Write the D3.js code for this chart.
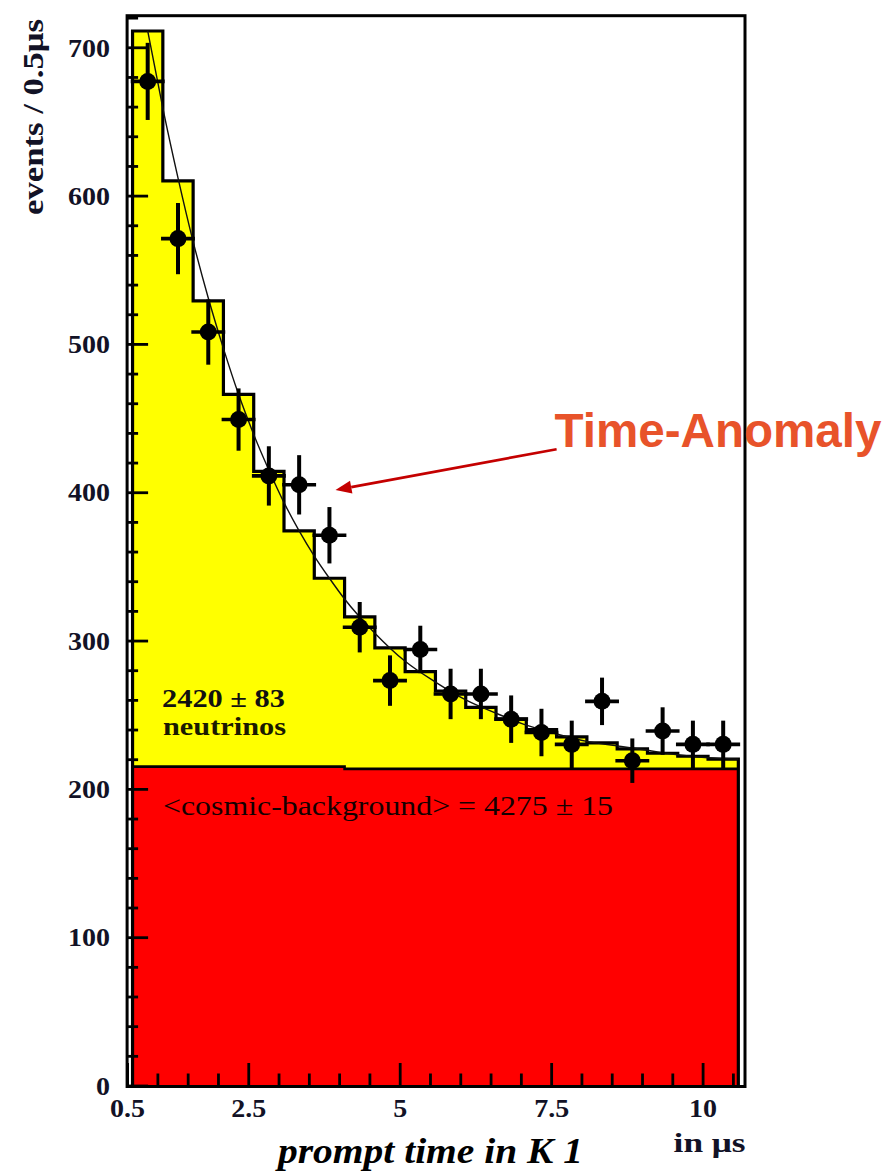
<!DOCTYPE html>
<html>
<head>
<meta charset="utf-8">
<script src="https://cdn.jsdelivr.net/npm/d3@7"></script>
<style>
  html, body { margin: 0; padding: 0; background: #fff; }
  svg { display: block; }
  .serif { font-family: "Times New Roman", "Liberation Serif", Times, serif; }
  .sans { font-family: Arial, "Liberation Sans", Helvetica, sans-serif; }
</style>
</head>
<body>
<svg id="chart" width="886" height="1176"></svg>
<script>
// Prompt-time spectrum in 0.5 µs bins: expectation histogram (neutrinos on top of
// cosmic background), measured counts with error bars and the fitted decay curve.

const binStart = 0.59;   // left edge of the first bin, µs
const binWidth = 0.5;    // µs

// expected counts per bin (neutrino + background), top of the yellow histogram
const totalCounts = [711, 610, 529, 466, 414, 374, 342, 316, 295, 279,
                     266, 255, 247, 240, 235, 231, 227, 224, 222, 220];

// cosmic background per bin, top of the red histogram
const backgroundCounts = [215, 215, 215, 215, 215, 215, 215, 213.5, 213.5, 213.5,
                          213.5, 213.5, 213.5, 213.5, 213.5, 213.5, 213.5, 213.5, 213.5, 213.5];

// measured counts and their errors
const measuredCounts = [677, 571, 508, 449, 411, 405, 371, 309, 273, 294,
                        264, 264, 247, 238, 230, 259, 219, 239, 230, 230];
const measuredErrors = [26, 24, 22, 21, 20, 20, 19, 17, 17, 16,
                        17, 17, 16, 16, 16, 16, 15, 16, 16, 16];

// fitted curve
const fitTime   = [0.84, 1.09, 1.34, 1.59, 1.84, 2.09, 2.34, 2.59, 2.84, 3.09, 3.34, 3.59, 3.84,
                   4.09, 4.59, 5.09, 5.59, 6.09, 6.59, 7.09, 7.59, 8.09, 8.59, 9.09, 9.59, 10.09, 10.59];
const fitCounts = [711, 659, 612, 569, 531, 497, 466, 439, 415, 393, 374, 357, 342,
                   328, 305, 286, 272, 260, 251, 243, 237, 232, 229, 226, 223, 221, 220];

// axes
const yTickValues = [0, 100, 200, 300, 400, 500, 600, 700];
const yTickLabels = ["0", "100", "200", "300", "400", "500", "600", "700"];
const xTickValues = [0.5, 2.5, 5, 7.5, 10];
const xTickLabels = ["0.5", "2.5", "5", "7.5", "10"];

// annotations (data coordinates)
const anomalyText = "Time-Anomaly";
const anomalyArrow = { fromT: 7.59, fromV: 429, toT: 3.94, toV: 401.5 };
const neutrinoText = ["2420 \u00B1 83", "neutrinos"];
const backgroundText = "<cosmic-background> = 4275 \u00B1 15";

// ---------------------------------------------------------------------------
const svg = d3.select("#chart");

const x = d3.scaleLinear().domain([0.5, 10.7]).range([127.1, 745]);
const y = d3.scaleLinear().domain([0, 721.3]).range([1085.5, 15.7]);

// squeeze/stretch a text element to a given rendered width
function fitWidth(sel, w) {
  sel.attr("textLength", w).attr("lengthAdjust", "spacingAndGlyphs");
}
function widen(sel, k) {
  sel.each(function () {
    const w = this.getComputedTextLength();
    this.setAttribute("textLength", w * k);
    this.setAttribute("lengthAdjust", "spacingAndGlyphs");
  });
}

const nBins = totalCounts.length;
const edges = d3.range(nBins + 1).map(i => binStart + i * binWidth);
const stepPts = (vals) => vals.map((v, i) => [edges[i], v]).concat([[edges[nBins], vals[nBins - 1]]]);

const totalPts = stepPts(totalCounts);
const bgPts = stepPts(backgroundCounts);

const area = d3.area().curve(d3.curveStepAfter)
  .x(d => x(d[0])).y0(y(0) + 1).y1(d => y(d[1]));
const line = d3.line().curve(d3.curveStepAfter)
  .x(d => x(d[0])).y(d => y(d[1]));

// yellow: neutrinos + background
svg.append("path").datum(totalPts).attr("d", area).attr("fill", "#ffff00");
// red: background
svg.append("path").datum(bgPts).attr("d", area).attr("fill", "#ff0000");
svg.append("path").datum(bgPts).attr("d", line)
  .attr("fill", "none").attr("stroke", "#000").attr("stroke-width", 2.6);

// histogram outline, closed down to the baseline on both sides
const outline = [[edges[0], 0]].concat(totalPts).concat([[edges[nBins], 0]]);
svg.append("path").datum(outline)
  .attr("d", line)
  .attr("fill", "none").attr("stroke", "#000").attr("stroke-width", 3.2)
  .attr("stroke-linejoin", "miter");

// fitted curve
svg.append("path")
  .datum(fitTime.map((t, i) => [t, fitCounts[i]]))
  .attr("d", d3.line().curve(d3.curveMonotoneX).x(d => x(d[0])).y(d => y(d[1])))
  .attr("fill", "none").attr("stroke", "#111").attr("stroke-width", 1.4);

// measured points with error bars
const pts = measuredCounts.map((v, i) => ({
  t: edges[i] + binWidth / 2, v, e: measuredErrors[i]
}));
const pg = svg.append("g");
pg.selectAll("line.v").data(pts).join("line").attr("class", "v")
  .attr("x1", d => x(d.t)).attr("x2", d => x(d.t))
  .attr("y1", d => y(d.v - d.e)).attr("y2", d => y(d.v + d.e))
  .attr("stroke", "#000").attr("stroke-width", 4);
pg.selectAll("line.h").data(pts).join("line").attr("class", "h")
  .attr("x1", d => x(d.t - binWidth / 2)).attr("x2", d => x(d.t + binWidth / 2))
  .attr("y1", d => y(d.v)).attr("y2", d => y(d.v))
  .attr("stroke", "#000").attr("stroke-width", 3.6).attr("stroke-linecap", "square");
pg.selectAll("circle").data(pts).join("circle")
  .attr("cx", d => x(d.t)).attr("cy", d => y(d.v)).attr("r", 8.5)
  .attr("fill", "#000");

// ---- axes ----
const tickStyle = g => {
  g.select(".domain").remove();
  g.selectAll(".tick line").attr("stroke", "#000").attr("stroke-width", 2.8);
};

const yMinor = d3.range(0, 721, 20).filter(v => v % 100 !== 0);
svg.append("g").attr("transform", `translate(${x(0.5)},0)`)
  .call(d3.axisLeft(y).tickValues(yMinor).tickSize(-11).tickFormat(""))
  .call(tickStyle);
const yAx = svg.append("g").attr("transform", `translate(${x(0.5)},0)`)
  .call(d3.axisLeft(y).tickValues(yTickValues).tickSize(-21).tickPadding(17)
    .tickFormat((d, i) => yTickLabels[i]))
  .call(tickStyle);
yAx.selectAll("text").attr("class", "serif")
  .attr("font-family", null).attr("font-weight", "bold").attr("font-size", 25)
  .attr("fill", "#121226").attr("dy", "0.35em")
  .call(widen, 1.12);

const xMinor = d3.range(0.5, 10.6, 0.5).filter(v => !xTickValues.includes(v));
svg.append("g").attr("transform", `translate(0,${y(0)})`)
  .call(d3.axisBottom(x).tickValues(xMinor).tickSize(-12).tickFormat(""))
  .call(tickStyle);
const xAx = svg.append("g").attr("transform", `translate(0,${y(0)})`)
  .call(d3.axisBottom(x).tickValues(xTickValues).tickSize(-22.5).tickPadding(14)
    .tickFormat((d, i) => xTickLabels[i]))
  .call(tickStyle);
xAx.selectAll("text").attr("class", "serif")
  .attr("font-family", null).attr("font-weight", "bold").attr("font-size", 25)
  .attr("fill", "#121226")
  .call(widen, 1.12);

// frame; the left histogram edge sits just inside it
svg.append("rect")
  .attr("x", x(0.5)).attr("y", y(721.3))
  .attr("width", x(10.7) - x(0.5)).attr("height", y(0) + 1 - y(721.3))
  .attr("fill", "none").attr("stroke", "#000").attr("stroke-width", 3);

// axis titles
svg.append("text").attr("class", "serif")
  .attr("transform", "translate(43,117) rotate(-90)")
  .attr("text-anchor", "middle")
  .attr("font-weight", "bold").attr("font-size", 29)
  .attr("fill", "#121226")
  .text("events / 0.5\u03BCs")
  .call(fitWidth, 196);

svg.append("text").attr("class", "serif")
  .attr("x", x(10) - 29).attr("y", 1152)
  .attr("font-weight", "bold").attr("font-size", 27)
  .attr("fill", "#121226")
  .text("in \u03BCs")
  .call(fitWidth, 72);

svg.append("text").attr("class", "serif")
  .attr("x", 278).attr("y", 1163)
  .attr("font-weight", "bold").attr("font-style", "italic")
  .attr("font-size", 35).attr("fill", "#000")
  .text("prompt time in K 1")
  .call(fitWidth, 305);

// fit results
svg.append("text").attr("class", "serif")
  .attr("x", 162).attr("y", 706.5)
  .attr("font-weight", "bold").attr("font-size", 26)
  .attr("fill", "#111").text(neutrinoText[0]).call(fitWidth, 123);
svg.append("text").attr("class", "serif")
  .attr("x", 163).attr("y", 735)
  .attr("font-weight", "bold").attr("font-size", 26)
  .attr("fill", "#1a1a00").text(neutrinoText[1]).call(fitWidth, 123);
svg.append("text").attr("class", "serif")
  .attr("x", 163).attr("y", 815)
  .attr("font-size", 27)
  .attr("fill", "#140000").text(backgroundText).call(fitWidth, 450);

// anomaly annotation
const aFrom = [x(anomalyArrow.fromT), y(anomalyArrow.fromV)];
const aTo = [x(anomalyArrow.toT), y(anomalyArrow.toV)];
const ang = Math.atan2(aTo[1] - aFrom[1], aTo[0] - aFrom[0]);
const headLen = 16, headHalf = 6.5;
const base = [aTo[0] - headLen * Math.cos(ang), aTo[1] - headLen * Math.sin(ang)];
svg.append("line")
  .attr("x1", aFrom[0]).attr("y1", aFrom[1]).attr("x2", base[0]).attr("y2", base[1])
  .attr("stroke", "#c40000").attr("stroke-width", 2.6);
svg.append("path")
  .attr("d", d3.line()([
    aTo,
    [base[0] + headHalf * Math.sin(ang), base[1] - headHalf * Math.cos(ang)],
    [base[0] - headHalf * Math.sin(ang), base[1] + headHalf * Math.cos(ang)]
  ]) + "Z")
  .attr("fill", "#c40000");

svg.append("text").attr("class", "sans")
  .attr("x", 554.5).attr("y", 447)
  .attr("font-weight", "bold").attr("font-size", 48)
  .attr("fill", "#e8532a")
  .text(anomalyText).call(fitWidth, 327);
</script>
</body>
</html>
